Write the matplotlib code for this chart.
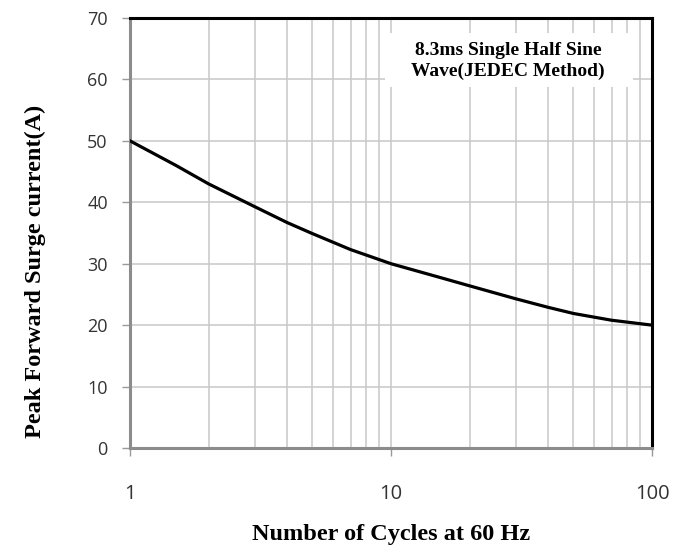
import numpy as np
import matplotlib.pyplot as plt
from matplotlib.patches import Rectangle

# Peak forward surge current vs number of cycles
cycles = [1, 1.5, 2, 3, 4, 5, 7, 10, 15, 20, 30, 40, 50, 70, 100]
current = [50, 46.0, 43.0, 39.3, 36.7, 34.9, 32.3, 30.0, 27.9, 26.4, 24.3, 22.9, 21.9, 20.8, 20.0]

yticks = [0, 10, 20, 30, 40, 50, 60, 70]
xticks = [1, 10, 100]
xticklabels = ['1', '10', '100']

fig = plt.figure(figsize=(6.87, 5.53), dpi=100)
ax = fig.add_axes([130/687, 105/553, 522/687, 430/553])

ax.plot(cycles, current, color='black', lw=2.3, zorder=3,
        solid_joinstyle='round')

ax.set_xscale('log')
ax.set_xlim(1, 100)
ax.set_ylim(0, 70)
ax.set_xticks(xticks)
ax.set_xticklabels(xticklabels)
ax.set_yticks(yticks)

ax.grid(which='major', axis='both', color='#c8c8c8', lw=1.1)
ax.grid(which='minor', axis='x', color='#c8c8c8', lw=1.1)
ax.tick_params(which='minor', length=0)
ax.tick_params(axis='y', which='major', length=6, width=1, color='#999999',
               labelsize=13, labelcolor='#333333', pad=10)
ax.tick_params(axis='x', which='major', length=6, width=1, color='#999999',
               labelsize=14.5, labelcolor='#333333', pad=20)
for lab in ax.get_xticklabels() + ax.get_yticklabels():
    lab.set_family('Open Sans')

for s in ['top', 'right']:
    ax.spines[s].set_color('black')
    ax.spines[s].set_linewidth(2.2)
for s in ['left', 'bottom']:
    ax.spines[s].set_color('#8c8c8c')
    ax.spines[s].set_linewidth(2.2)

# white box behind the annotation
ax.add_patch(Rectangle((0.489, 0.840), 0.475, 0.126, transform=ax.transAxes,
                       facecolor='white', edgecolor='none', zorder=2.5))
ax.text(0.724, 0.9, '8.3ms Single Half Sine\nWave(JEDEC Method)',
        transform=ax.transAxes, ha='center', va='center',
        family='Liberation Serif', fontweight='bold', fontsize=14,
        linespacing=1.25, zorder=4)

ax.set_xlabel('Number of Cycles at 60 Hz', family='Liberation Serif',
              fontweight='bold', fontsize=17.5)
ax.set_ylabel('Peak Forward Surge current(A)', family='Liberation Serif',
              fontweight='bold', fontsize=17.5)
ax.xaxis.set_label_coords(0.5, -0.202)
ax.yaxis.set_label_coords(-0.182, 0.41)
ax.xaxis.label.set_va('center')
ax.yaxis.label.set_va('center')

fig.savefig('out.png', dpi=100)
